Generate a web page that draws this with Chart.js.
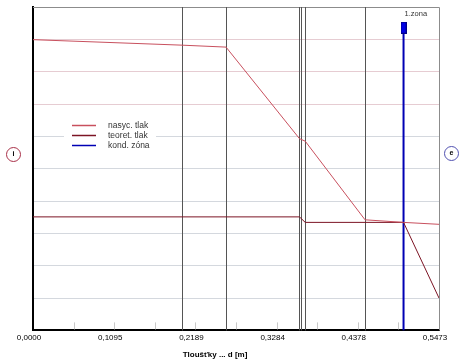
<!DOCTYPE html>
<html><head><meta charset="utf-8">
<script src="https://cdn.jsdelivr.net/npm/chart.js@4/dist/chart.umd.min.js"></script>
<style>html,body{margin:0;padding:0;background:#fff;}#wrap{width:464px;height:360px;position:relative}</style>
</head><body><div id="wrap"><canvas id="c" width="464" height="360"></canvas></div>
<script>
// ---- data ----
const xMax = 0.5473;
const tickValues = [0, 0.1095, 0.2189, 0.3284, 0.4378, 0.5473];
const tickLabels = ['0,0000', '0,1095', '0,2189', '0,3284', '0,4378', '0,5473'];
const minorTicks = [0.0547, 0.1095, 0.1642, 0.2189, 0.2737, 0.3284, 0.3831, 0.4378, 0.4926];
const layerBounds = [0.2009, 0.2602, 0.3592, 0.3619, 0.3670, 0.4476];
const satX = [0, 0.2009, 0.2602, 0.3592, 0.3670, 0.4476, 0.4995, 0.5473];
const satY = [8.99, 8.82, 8.76, 5.93, 5.85, 3.42, 3.34, 3.28];
const teoX = [0, 0.3592, 0.3670, 0.4995, 0.5473];
const teoY = [3.51, 3.51, 3.34, 3.34, 1.00];
const condX = [0.4995, 0.4995];
const condY = [0, 9.36];
const seriesNames = ['nasyc. tlak', 'teoret. tlak', 'kond. zóna'];
const seriesColors = ['#c8505e', '#7c1424', '#0000b4'];
const zoneLabel = '1.zona';
const axisTitle = 'Tloušťky ... d [m]';
const sideLabels = ['i', 'e'];

Chart.defaults.font.family = '"Liberation Sans", Arial, sans-serif';
const pts = (xs, ys) => xs.map((x, i) => ({x: x, y: ys[i]}));

const marker = document.createElement('canvas');
marker.width = 6; marker.height = 12;
(function(){const m = marker.getContext('2d'); m.fillStyle = '#0000e6'; m.fillRect(0,0,6,12); m.strokeStyle = '#00008a'; m.lineWidth = 1; m.strokeRect(0.5,0.5,5,11);})();

const decor = {
  id: 'decor',
  beforeDatasetsDraw(chart) {
    const {ctx, chartArea: a, scales: {x}} = chart;
    ctx.save();
    // frame top/right
    ctx.strokeStyle = '#8c8c8c'; ctx.lineWidth = 1;
    ctx.beginPath();
    const rx = Math.round(a.right) + 0.5, ty = Math.round(a.top) + 0.5;
    ctx.moveTo(a.left, ty); ctx.lineTo(rx, ty);
    ctx.moveTo(rx, ty); ctx.lineTo(rx, a.bottom);
    ctx.stroke();
    // minor ticks inward
    ctx.strokeStyle = '#c8c8c8';
    ctx.beginPath();
    minorTicks.forEach(v => { const px = Math.round(x.getPixelForValue(v)) + 0.5; ctx.moveTo(px, a.bottom - 1); ctx.lineTo(px, a.bottom - 8); });
    ctx.stroke();
    // layer boundaries
    ctx.strokeStyle = '#555555';
    ctx.beginPath();
    layerBounds.forEach(v => { const px = Math.round(x.getPixelForValue(v)) + 0.5; ctx.moveTo(px, a.top); ctx.lineTo(px, a.bottom); });
    ctx.stroke();
    ctx.restore();
  },
  afterDraw(chart) {
    const {ctx, chartArea: a} = chart;
    ctx.save();
    // legend
    const lx = a.left + 39, ly = a.top + 118;
    ctx.fillStyle = '#fff';
    ctx.fillRect(a.left + 31, ly - 7, 92, 34);
    ctx.font = '8.5px "Liberation Sans", Arial, sans-serif';
    ctx.textBaseline = 'middle'; ctx.textAlign = 'left';
    seriesNames.forEach((n, i) => {
      const y = ly + i * 10 + 0.5;
      ctx.strokeStyle = seriesColors[i]; ctx.lineWidth = 1.5;
      ctx.beginPath(); ctx.moveTo(lx, y); ctx.lineTo(lx + 24, y); ctx.stroke();
      ctx.fillStyle = '#333'; ctx.fillText(n, lx + 36, y);
    });
    // zone label
    const meta = chart.getDatasetMeta(2);
    const top = meta.data[1];
    ctx.font = '7.5px "Liberation Sans", Arial, sans-serif';
    ctx.fillStyle = '#333'; ctx.textBaseline = 'alphabetic';
    ctx.fillText(zoneLabel, top.x + 1, top.y - 12);
    // axis title
    ctx.font = 'bold 8px "Liberation Sans", Arial, sans-serif';
    ctx.fillStyle = '#000'; ctx.textAlign = 'center';
    ctx.fillText(axisTitle, (a.left + a.right) / 2 - 21, a.bottom + 27);
    // side circles
    const circ = [[a.left - 19.5, a.top + 147.5, '#a83048'], [a.right + 12.5, a.top + 146.5, '#5050b0']];
    circ.forEach((c, i) => {
      ctx.strokeStyle = c[2]; ctx.lineWidth = 1;
      ctx.beginPath(); ctx.arc(c[0], c[1], 7, 0, Math.PI * 2); ctx.stroke();
      ctx.fillStyle = '#000'; ctx.font = 'bold 7px "Liberation Sans", Arial, sans-serif';
      ctx.textBaseline = 'middle'; ctx.fillText(sideLabels[i], c[0], c[1]);
    });
    ctx.restore();
  }
};

new Chart(document.getElementById('c'), {
  type: 'scatter',
  data: {datasets: [
    {label: seriesNames[0], data: pts(satX, satY), showLine: true, borderColor: seriesColors[0], borderWidth: 1, pointRadius: 0, tension: 0},
    {label: seriesNames[1], data: pts(teoX, teoY), showLine: true, borderColor: seriesColors[1], borderWidth: 1, pointRadius: 0, tension: 0},
    {label: seriesNames[2], data: pts(condX, condY), showLine: true, borderColor: seriesColors[2], borderWidth: 2, pointRadius: [0, 3], pointStyle: marker, tension: 0}
  ]},
  options: {
    responsive: false, animation: false, events: [],
    layout: {padding: {left: 33, right: 25, top: 7, bottom: 14}},
    plugins: {legend: {display: false}, tooltip: {enabled: false}},
    scales: {
      x: {type: 'linear', min: 0, max: xMax, position: 'bottom',
        afterBuildTicks: s => { s.ticks = tickValues.map(v => ({value: v})); },
        ticks: {callback: (v, i) => tickLabels[i], font: {size: 8}, color: '#000', padding: 3, labelOffset: -4, maxRotation: 0, autoSkip: false},
        grid: {drawOnChartArea: false, drawTicks: false},
        border: {display: true, color: '#000', width: 2}},
      y: {min: 0, max: 10,
        ticks: {display: false, stepSize: 1},
        grid: {drawTicks: false, color: c => c.tick.value >= 10 ? '#8c8c8c' : (c.tick.value >= 7 ? '#e6ccd2' : '#d4d8de')},
        border: {display: true, color: '#000', width: 2}}
    }
  },
  plugins: [decor]
});
</script></body></html>
